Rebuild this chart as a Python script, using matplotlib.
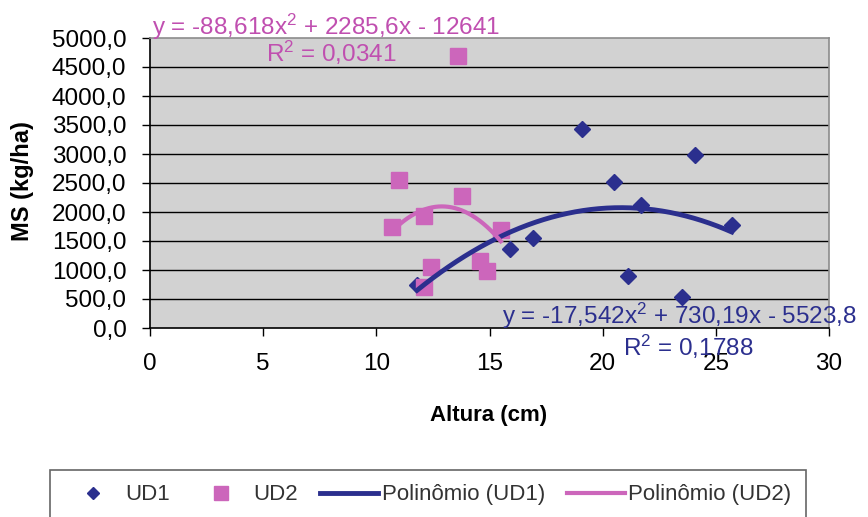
import numpy as np
import matplotlib
matplotlib.use('Agg')
import matplotlib.pyplot as plt

plt.rcParams['font.family'] = ['Liberation Sans', 'DejaVu Sans']
plt.rcParams['mathtext.default'] = 'regular'

# data
ud1_x = [11.8, 15.9, 16.9, 19.1, 20.5, 21.1, 21.7, 23.5, 24.1, 25.7]
ud1_y = [740, 1356, 1545, 3426, 2523, 897, 2121, 540, 2977, 1776]
ud2_x = [10.7, 11.0, 12.1, 12.1, 12.4, 13.6, 13.8, 14.6, 14.9, 15.5]
ud2_y = [1747, 2552, 1937, 712, 1046, 4690, 2276, 1155, 988, 1690]

# trend line coefficients (as shown on the chart)
ud1_coef = [-17.542, 730.19, -5523.8]
ud2_coef = [-88.618, 2285.6, -12641]

x_ticks = [0, 5, 10, 15, 20, 25, 30]
y_ticks = [0, 500, 1000, 1500, 2000, 2500, 3000, 3500, 4000, 4500, 5000]

blue = '#2B2F8E'
pink = '#CC66BB'
pink_txt = '#C04FB0'

W, H = 868, 517
fig = plt.figure(figsize=(W / 100, H / 100), dpi=100)
ax = fig.add_axes([150 / W, 1 - 328 / H, 679 / W, 290 / H])
ax.set_facecolor('#D2D2D2')

# black gridlines (not on the top edge)
for yt in y_ticks[1:-1]:
    ax.axhline(yt, color='black', lw=1.0, zorder=1)

ax.plot(ud1_x, ud1_y, ls='none', marker='D', ms=8, color=blue, zorder=3, label='UD1')
ax.plot(ud2_x, ud2_y, ls='none', marker='s', ms=12, color=pink, mec=pink, zorder=3, label='UD2')

xs1 = np.linspace(min(ud1_x), max(ud1_x), 200)
xs2 = np.linspace(min(ud2_x), max(ud2_x), 200)
ax.plot(xs1, np.polyval(ud1_coef, xs1), color=blue, lw=3.5, zorder=4, label='Polinômio (UD1)')
ax.plot(xs2, np.polyval(ud2_coef, xs2), color=pink, lw=3, zorder=4, label='Polinômio (UD2)')

ax.set_xlim(0, 30)
ax.set_ylim(0, 5000)
ax.set_xticks(x_ticks)
ax.set_yticks(y_ticks)
ax.set_yticklabels([('%.1f' % v).replace('.', ',') for v in y_ticks])
ax.tick_params(axis='both', direction='out', length=6, width=1, colors='black', labelsize=17.5)
ax.tick_params(axis='x', pad=12)
ax.tick_params(axis='y', pad=11)
for s in ['left', 'bottom']:
    ax.spines[s].set_color('black')
    ax.spines[s].set_linewidth(1.2)
for s in ['top', 'right']:
    ax.spines[s].set_color('#8C8C8C')
    ax.spines[s].set_linewidth(1.2)

fig.text(23 / W, 1 - 181 / H, 'MS (kg/ha)', rotation=90, ha='center', va='center',
         fontsize=17, fontweight='bold')
fig.text(489 / W, 1 - 415 / H, 'Altura (cm)', ha='center', va='center',
         fontsize=16, fontweight='bold')

# trend line equations
fig.text(152 / W, 1 - 27 / H, 'y = -88,618x$^2$ + 2285,6x - 12641', ha='left', va='center',
         fontsize=17.5, color=pink_txt)
fig.text(331 / W, 1 - 53 / H, 'R$^2$ = 0,0341', ha='center', va='center',
         fontsize=17.5, color=pink_txt)
fig.text(502 / W, 1 - 316 / H, 'y = -17,542x$^2$ + 730,19x - 5523,8', ha='left', va='center',
         fontsize=17.5, color=blue)
fig.text(688 / W, 1 - 347 / H, 'R$^2$ = 0,1788', ha='center', va='center',
         fontsize=17.5, color=blue)

leg = fig.legend(loc='upper left', bbox_to_anchor=(50 / W, 1 - 470 / H), ncol=4,
                 fontsize=16, frameon=True, fancybox=False, borderaxespad=0,
                 handlelength=2.6, handletextpad=0.15, columnspacing=1.0,
                 borderpad=0.65, markerscale=0.8)
leg.get_frame().set_edgecolor('#404040')
leg.get_frame().set_linewidth(1.2)
for t in leg.get_texts():
    t.set_color('#333333')

fig.savefig('out.png', dpi=100)
